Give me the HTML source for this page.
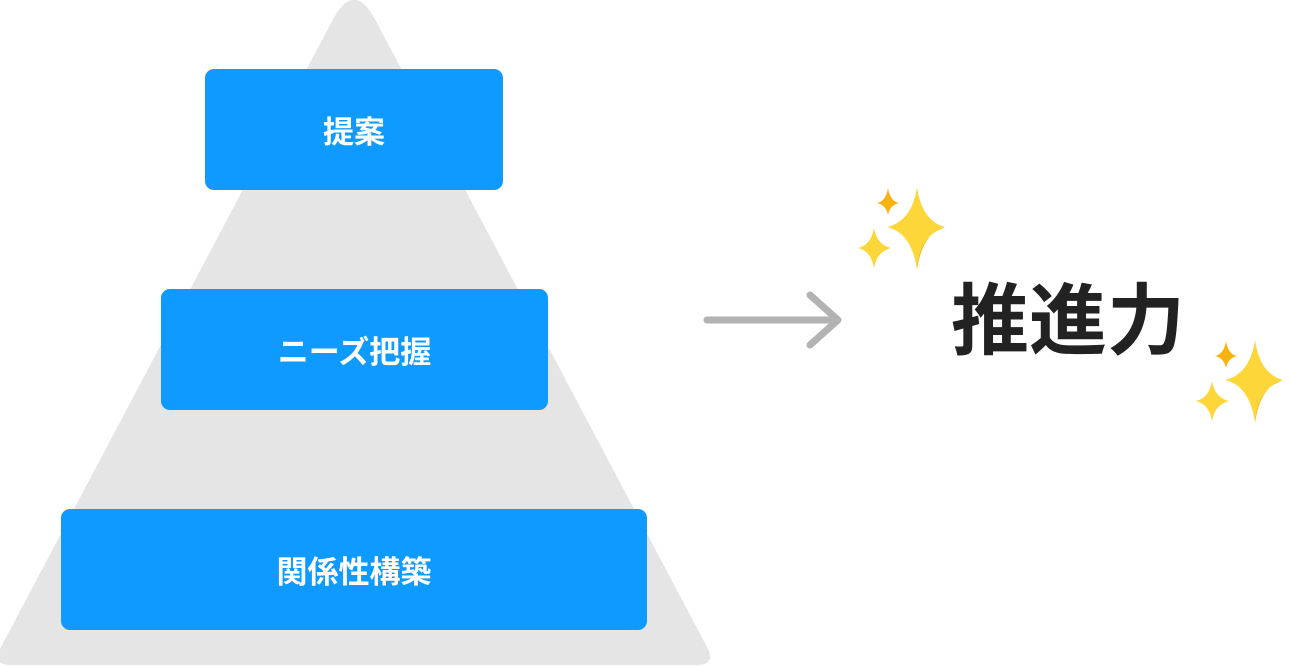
<!DOCTYPE html>
<html>
<head>
<meta charset="utf-8">
<style>
  html, body { margin: 0; padding: 0; background: #ffffff; }
  body { width: 1290px; height: 666px; position: relative; overflow: hidden; }
  svg { position: absolute; left: 0; top: 0; }
  .box {
    position: absolute;
    background: #0f9aff;
    border-radius: 9px;
    color: #ffffff;
    font-family: "Liberation Sans", "Noto Sans CJK JP", sans-serif;
    font-weight: bold;
    font-size: 31px;
    display: flex;
    align-items: center;
    justify-content: center;
    line-height: 1;
    box-sizing: border-box;
    padding-top: 5px;
  }
  .big {
    position: absolute;
    font-family: "Liberation Sans", "Noto Sans CJK JP", sans-serif;
    font-weight: bold;
    font-size: 78px;
    color: #222222;
    line-height: 1;
    left: 948px;
    top: 282px;
    width: 240px;
    text-align: center;
  }
</style>
</head>
<body>
<svg width="1290" height="666" viewBox="0 0 1290 666" xmlns="http://www.w3.org/2000/svg">
  <!-- pyramid -->
  <path d="M332.5,20.2 Q354,-20.5 375.5,20.2 L707.15,647.3 Q716.5,665 696.5,665 L11.5,665 Q-8.5,665 0.85,647.3 Z" fill="#e5e5e5"/>
  <!-- arrow -->
  <g stroke="#b3b3b3" stroke-width="7" stroke-linecap="round" stroke-linejoin="round" fill="none">
    <line x1="707" y1="320" x2="837" y2="320"/>
    <polyline points="810,295 838,320 810,345"/>
  </g>
  <!-- sparkles top -->
  <g>
    <path d="M917,187 Q922,221 945,227 Q922,233 917,270 Q912,233 887,227 Q912,221 917,187 Z" fill="#fdd63a"/>
    <path d="M945,227 Q922,233 917,270 Q919,238 941,229 Z" fill="#f5b50f"/>
    <path d="M874,228 Q877,245 891,248 Q877,251 874,268 Q871,251 858,248 Q871,245 874,228 Z" fill="#fdd63a"/>
    <path d="M891,248 Q877,251 874,268 Q876,254 888,249 Z" fill="#f5b50f"/>
    <path d="M888,188 Q890,201 899,203 Q890,205 888,215 Q886,205 877,203 Q886,201 888,188 Z" fill="#f9b311"/>
  </g>
  <!-- sparkles bottom -->
  <g transform="translate(338,153)">
    <path d="M917,187 Q922,221 945,227 Q922,233 917,270 Q912,233 887,227 Q912,221 917,187 Z" fill="#fdd63a"/>
    <path d="M945,227 Q922,233 917,270 Q919,238 941,229 Z" fill="#f5b50f"/>
    <path d="M874,228 Q877,245 891,248 Q877,251 874,268 Q871,251 858,248 Q871,245 874,228 Z" fill="#fdd63a"/>
    <path d="M891,248 Q877,251 874,268 Q876,254 888,249 Z" fill="#f5b50f"/>
    <path d="M888,188 Q890,201 899,203 Q890,205 888,215 Q886,205 877,203 Q886,201 888,188 Z" fill="#f9b311"/>
  </g>
</svg>

<div class="box" style="left:205px; top:69px; width:298px; height:121px;">提案</div>
<div class="box" style="left:161px; top:289px; width:387px; height:121px;">ニーズ把握</div>
<div class="box" style="left:61px; top:509px; width:586px; height:121px;">関係性構築</div>

<div class="big">推進力</div>
</body>
</html>
